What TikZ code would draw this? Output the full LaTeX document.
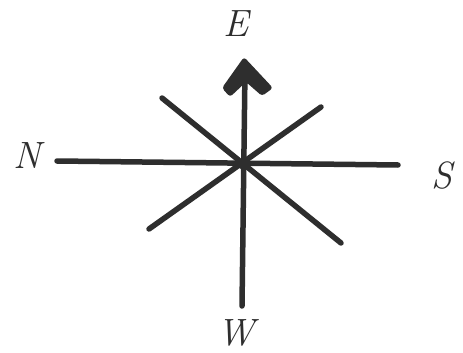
\documentclass[tikz,border=0pt]{standalone}
\definecolor{ink}{HTML}{2E2E2E}
\begin{document}
\begin{tikzpicture}[x=1pt,y=-1pt,
  spoke/.style={draw=ink,line width=5.5pt,line cap=round},
  head/.style={fill=ink,rounded corners=3pt},
  lbl/.style={text=ink,font=\fontsize{38}{38}\selectfont\itshape,inner sep=0pt}]
\useasboundingbox (0,0) rectangle (463,353);
\fill[white] (0,0) rectangle (463,353);
\coordinate (c) at (244,164);
\coordinate (pn) at (57,161);
\coordinate (ps) at (398,165);
\coordinate (pe) at (245,70);
\coordinate (pw) at (242,306);
\coordinate (d1a) at (162,98);
\coordinate (d1b) at (341,243);
\coordinate (d2a) at (149,229);
\coordinate (d2b) at (321,107);
\draw[spoke] (pn) -- (ps);
\draw[spoke] (pw) -- (pe);
\fill[head] (244,57) -- (222,88) -- (230,97) -- (246,82) -- (262,96) -- (273,88) -- cycle;
\draw[spoke] (d1a) -- (d1b);
\draw[spoke] (d2a) -- (d2b);
\fill[ink] (c) circle (6pt);
\node[lbl] (E) at (236,24) {E};
\node[lbl] (N) at (27,156) {N};
\node[lbl] (S) at (442,176) {S};
\node[lbl] (W) at (236,333) {W};
\end{tikzpicture}
\end{document}
